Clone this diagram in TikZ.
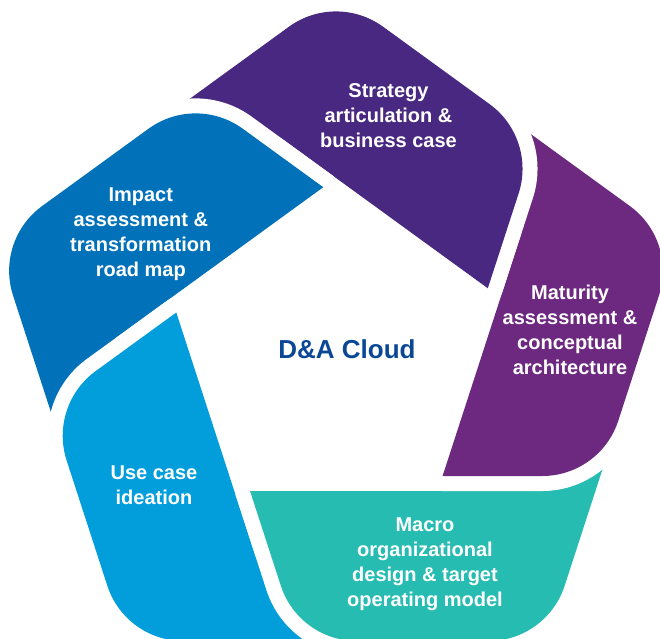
\documentclass[tikz,border=0pt]{standalone}
\usepackage{fontspec}
\setmainfont{Liberation Sans}
\usepackage{xcolor}
\usetikzlibrary{positioning}

\definecolor{strategy}{HTML}{482880}
\definecolor{maturity}{HTML}{6D2880}
\definecolor{macro}{HTML}{27BCB1}
\definecolor{usecase}{HTML}{019EDB}
\definecolor{impact}{HTML}{0171B9}
\definecolor{cloudblue}{HTML}{0A4896}

\begin{document}
\begin{tikzpicture}[x=1pt, y=1pt,
    segment/.style={insert path={(-85.95,-140) -- (170,-140) -- (170,-50) -- (255,-50) -- (269.17,-110) -- (228.65,-234.72)
        arc[start angle=-18, end angle=-90, radius=80] -- (20.91,-290)
        arc[start angle=-90, end angle=-162, radius=80] -- cycle}},
    halo/.style={fill=white, draw=white, line width=30pt, line join=round},
    segtext/.style={text=white, align=center, font=\bfseries\fontsize{20}{25}\selectfont}]
    \useasboundingbox (-336,-287) rectangle (324,351);
    \begin{scope}[rotate=144]
        \fill[halo, segment];
        \fill[strategy, segment];
    \end{scope}
    \begin{scope}[rotate=-144]
        \fill[halo, segment];
        \fill[impact, segment];
    \end{scope}
    \begin{scope}[rotate=-72]
        \fill[halo, segment];
        \fill[usecase, segment];
    \end{scope}
    \begin{scope}[rotate=0]
        \fill[halo, segment];
        \fill[macro, segment];
    \end{scope}
    \begin{scope}[rotate=72]
        \fill[halo, segment];
        \fill[maturity, segment];
    \end{scope}
    \begin{scope}
        \clip (60,-300) rectangle (400,400);
        \begin{scope}[rotate=144]
            \fill[halo, segment];
            \fill[strategy, segment];
        \end{scope}
    \end{scope}
    \node[segtext] (strategytext) at (52.5, 235.2) {Strategy\\articulation \&\\business case};
    \node[segtext] (maturitytext) at (234, 20.7) {Maturity\\assessment \&\\conceptual\\architecture};
    \node[segtext] (macrotext) at (89, -213) {Macro\\organizational\\design \& target\\operating model};
    \node[segtext] (usecasetext) at (-182, -134.5) {Use case\\ideation};
    \node[segtext] (impacttext) at (-195.2, 117) {Impact\\assessment \&\\transformation\\road map};
    \node[anchor=base, text=cloudblue, font=\bfseries\fontsize{26}{30}\selectfont] (cloud) at (11, -7) {D\&A Cloud};
\end{tikzpicture}
\end{document}
